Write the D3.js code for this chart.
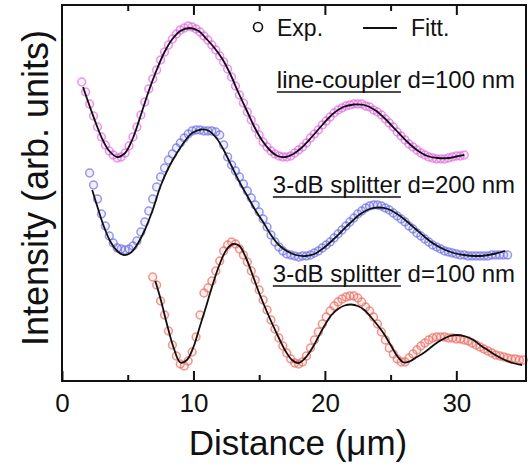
<!DOCTYPE html>
<html>
<head>
<meta charset="utf-8">
<script src="https://cdn.jsdelivr.net/npm/d3@7"></script>
<style>
  body { margin: 0; background: #fff; }
  svg text { font-family: "Liberation Sans", Arial, Helvetica, sans-serif; fill: #111; }
</style>
</head>
<body>
<div id="chart"></div>
<script>
// fitted curves (distance in um, intensity in arb. units)
const pinkFitX = [1.6, 2.1, 2.6, 3.1, 3.6, 4.2, 4.8, 5.4, 6.0, 6.6, 7.2, 7.8, 8.4, 9.0, 9.7, 10.4, 11.0, 11.6, 12.2, 12.8, 13.4, 14.0, 14.6, 15.2, 15.8, 16.4, 17.0, 17.6, 18.2, 19.0, 19.8, 20.6, 21.4, 22.2, 23.0, 23.8, 24.6, 25.4, 26.2, 27.0, 27.8, 28.6, 29.4, 30.0, 30.6];
const pinkFitY = [29.4, 27.5, 25.7, 24.1, 23.0, 22.4, 22.8, 24.3, 26.6, 29.0, 31.1, 32.9, 34.2, 35.0, 35.3, 35.0, 34.2, 33.3, 32.2, 30.7, 28.9, 27.2, 25.5, 24.1, 23.1, 22.5, 22.4, 22.7, 23.3, 24.4, 25.6, 26.7, 27.4, 27.65, 27.6, 27.1, 26.2, 25.1, 24.0, 23.1, 22.5, 22.3, 22.3, 22.45, 22.6];

const blueFitX = [2.3, 2.7, 3.2, 3.7, 4.2, 4.7, 5.2, 5.7, 6.3, 6.9, 7.5, 8.1, 8.7, 9.3, 9.9, 10.6, 11.2, 11.8, 12.3, 12.9, 13.5, 14.1, 14.7, 15.3, 15.9, 16.5, 17.1, 17.8, 18.5, 19.2, 19.9, 20.6, 21.3, 22.0, 22.7, 23.4, 24.1, 24.8, 25.5, 26.2, 26.9, 27.6, 28.3, 29.0, 29.8, 30.6, 31.4, 32.2, 33.0, 33.7];
const blueFitY = [19.1, 17.4, 15.4, 13.9, 13.0, 12.6, 12.8, 13.6, 15.1, 17.1, 19.5, 21.3, 22.7, 23.9, 24.8, 25.15, 25.0, 24.2, 23.1, 21.5, 19.9, 18.5, 17.1, 15.9, 14.6, 13.6, 13.0, 12.6, 12.5, 12.7, 13.3, 14.1, 15.0, 15.9, 16.7, 17.2, 17.35, 17.2, 16.7, 16.0, 15.2, 14.4, 13.7, 13.2, 12.8, 12.6, 12.5, 12.55, 12.75, 13.0];

const redFitX = [7.1, 7.5, 8.0, 8.5, 9.0, 9.5, 10.0, 10.5, 11.0, 11.5, 12.0, 12.5, 13.0, 13.5, 14.0, 14.5, 15.0, 15.5, 16.0, 16.5, 17.0, 17.5, 18.0, 18.5, 19.0, 19.5, 20.0, 20.5, 21.0, 21.5, 22.0, 22.5, 23.0, 23.5, 24.0, 24.5, 25.0, 25.5, 26.0, 26.5, 27.0, 27.5, 28.0, 28.5, 29.0, 29.5, 30.1, 30.7, 31.3, 31.9, 32.5, 33.1, 33.7, 34.3, 35.0];
const redFitY = [10.0, 8.2, 5.6, 3.3, 1.85, 2.1, 3.4, 5.5, 7.6, 9.8, 11.7, 13.1, 13.7, 13.5, 12.3, 10.6, 8.8, 7.2, 5.7, 4.3, 3.0, 2.1, 1.8, 2.3, 3.2, 4.4, 5.6, 6.6, 7.2, 7.55, 7.65, 7.5, 7.1, 6.4, 5.6, 4.7, 3.6, 2.5, 1.85, 2.0, 2.4, 2.8, 3.3, 3.8, 4.2, 4.5, 4.6, 4.45, 4.1, 3.5, 3.0, 2.5, 2.1, 1.8, 1.6];

// measured points, sampled every 0.3 um from the start distance
const expStep = 0.3;
const pinkExpStart = 1.5;
const pinkExp = [29.9, 28.9, 27.7, 26.5, 25.4, 24.4, 23.6, 23.0, 22.6, 22.3,
  22.4, 22.8, 23.5, 24.4, 25.4, 26.6, 27.9, 29.2, 30.2, 31.1,
  32.1, 32.9, 33.6, 34.2, 34.7, 35.1, 35.3, 35.5, 35.4, 35.2,
  34.9, 34.5, 34.1, 33.6, 33.1, 32.5, 31.9, 31.2, 30.4, 29.5,
  28.6, 27.8, 26.9, 26.1, 25.3, 24.6, 23.9, 23.4, 23.0, 22.7,
  22.5, 22.4, 22.4, 22.5, 22.8, 23.1, 23.4, 23.8, 24.3, 24.7,
  25.1, 25.6, 26.0, 26.4, 26.8, 27.1, 27.3, 27.5, 27.6, 27.7,
  27.7, 27.7, 27.5, 27.4, 27.1, 26.9, 26.6, 26.2, 25.8, 25.4,
  24.9, 24.5, 24.1, 23.7, 23.4, 23.1, 22.8, 22.6, 22.4, 22.3,
  22.2, 22.2, 22.2, 22.3, 22.4, 22.5, 22.5, 22.6];
const blueExpStart = 2.1;
const blueExp = [20.8, 19.6, 18.2, 16.7, 15.5, 14.5, 13.8, 13.3, 13.2, 13.1,
  13.2, 13.5, 14.0, 14.9, 15.9, 17.0, 18.2, 19.4, 20.4, 21.3,
  22.1, 22.7, 23.3, 23.8, 24.3, 24.7, 25.0, 25.1, 25.1, 25.0,
  25.0, 25.0, 24.9, 24.6, 23.6, 22.4, 21.6, 21.0, 20.4, 19.7,
  19.0, 18.3, 17.6, 16.9, 16.2, 15.4, 14.6, 13.9, 13.4, 13.0,
  12.7, 12.6, 12.5, 12.4, 12.5, 12.5, 12.6, 12.8, 13.0, 13.3,
  13.6, 13.9, 14.3, 14.7, 15.1, 15.5, 15.9, 16.3, 16.7, 17.0,
  17.3, 17.5, 17.6, 17.6, 17.5, 17.3, 17.1, 16.8, 16.5, 16.2,
  15.9, 15.5, 15.2, 14.8, 14.5, 14.2, 13.9, 13.6, 13.4, 13.2,
  13.0, 12.9, 12.8, 12.7, 12.6, 12.6, 12.5, 12.5, 12.5, 12.5,
  12.5, 12.5, 12.6, 12.6, 12.6, 12.6, 12.6];
const redExpStart = 6.9;
const redExp = [10.4, 9.6, 8.0, 6.6, 5.0, 3.6, 2.5, 1.7, 1.5, 2.0,
  2.9, 4.4, 6.6, 8.8, 9.3, 10.0, 11.0, 12.0, 13.0, 13.6,
  13.9, 13.7, 13.2, 12.6, 11.9, 11.0, 10.1, 9.1, 8.1, 7.1,
  6.1, 5.2, 4.3, 3.5, 2.8, 2.2, 1.8, 1.7, 1.9, 2.5,
  3.3, 4.1, 4.9, 5.7, 6.4, 7.0, 7.5, 7.9, 8.2, 8.4,
  8.5, 8.5, 8.3, 7.9, 7.4, 7.0, 6.4, 5.7, 4.9, 4.1,
  3.3, 2.7, 2.2, 1.9, 1.9, 2.3, 2.7, 3.1, 3.5, 3.8,
  4.1, 4.3, 4.4, 4.4, 4.4, 4.3, 4.3, 4.2, 4.2, 4.1,
  4.0, 3.8, 3.6, 3.4, 3.2, 3.0, 2.8, 2.6, 2.5, 2.4,
  2.3, 2.2, 2.2, 2.1, 2.1];

const xTicksMajor = [0, 10, 20, 30];
const xTicksMinor = [5, 15, 25];

const series = [
  { name: "line-coupler", label: " d=100 nm", color: "#e36be3", fitX: pinkFitX, fitY: pinkFitY, start: pinkExpStart, exp: pinkExp, ty: 88 },
  { name: "3-dB splitter", label: " d=200 nm", color: "#6f70e6", fitX: blueFitX, fitY: blueFitY, start: blueExpStart, exp: blueExp, ty: 193 },
  { name: "3-dB splitter", label: " d=100 nm", color: "#eb6e64", fitX: redFitX, fitY: redFitY, start: redExpStart, exp: redExp, ty: 282 },
];

const width = 528, height = 466;
const plot = { left: 62, top: 5, right: 526, bottom: 381 };

const svg = d3.select("#chart").append("svg")
  .attr("width", width)
  .attr("height", height);

const x = d3.scaleLinear().domain([0, 35.3]).range([plot.left, plot.right]);
const y = d3.scaleLinear().domain([0, 37.6]).range([plot.bottom, plot.top]);

// experimental circles
series.forEach(s => {
  const pts = s.exp.map((v, i) => [s.start + i * expStep, v]);
  svg.append("g")
    .selectAll("circle")
    .data(pts)
    .enter()
    .append("circle")
    .attr("cx", d => x(d[0]))
    .attr("cy", d => y(d[1]))
    .attr("r", 3.9)
    .attr("fill", s.color)
    .attr("fill-opacity", 0.1)
    .attr("stroke", s.color)
    .attr("stroke-opacity", 0.72)
    .attr("stroke-width", 1.5);
});

// fitted lines
const line = d3.line()
  .x(d => x(d[0]))
  .y(d => y(d[1]))
  .curve(d3.curveCatmullRom.alpha(0.5));

series.forEach(s => {
  svg.append("path")
    .datum(d3.zip(s.fitX, s.fitY))
    .attr("d", line)
    .attr("fill", "none")
    .attr("stroke", "#111")
    .attr("stroke-width", 1.8);
});

// frame
svg.append("rect")
  .attr("x", plot.left)
  .attr("y", plot.top)
  .attr("width", plot.right - plot.left)
  .attr("height", plot.bottom - plot.top)
  .attr("fill", "none")
  .attr("stroke", "#111")
  .attr("stroke-width", 2);

// bottom axis, ticks pointing inward
const bottomMajor = svg.append("g")
  .attr("transform", `translate(0,${plot.bottom})`)
  .call(d3.axisBottom(x).tickValues(xTicksMajor).tickSizeInner(-10).tickSizeOuter(0).tickPadding(13));
const bottomMinor = svg.append("g")
  .attr("transform", `translate(0,${plot.bottom})`)
  .call(d3.axisBottom(x).tickValues(xTicksMinor).tickSizeInner(-6).tickSizeOuter(0).tickFormat(""));
const topMajor = svg.append("g")
  .attr("transform", `translate(0,${plot.top})`)
  .call(d3.axisTop(x).tickValues(xTicksMajor.filter(t => t > 0)).tickSizeInner(-10).tickSizeOuter(0).tickFormat(""));
const topMinor = svg.append("g")
  .attr("transform", `translate(0,${plot.top})`)
  .call(d3.axisTop(x).tickValues(xTicksMinor).tickSizeInner(-6).tickSizeOuter(0).tickFormat(""));

[bottomMajor, bottomMinor, topMajor, topMinor].forEach(g => {
  g.select(".domain").remove();
  g.selectAll(".tick line").attr("stroke", "#111").attr("stroke-width", 2);
});
bottomMajor.selectAll(".tick text")
  .attr("fill", "#111")
  .style("font-size", "26px")
  .style("font-family", "'Liberation Sans', Arial, sans-serif");

// axis titles
svg.append("text")
  .attr("x", 298)
  .attr("y", 455)
  .attr("text-anchor", "middle")
  .style("font-size", "35px")
  .text("Distance (\u03bcm)");

svg.append("text")
  .attr("transform", "translate(48,188) rotate(-90)")
  .attr("text-anchor", "middle")
  .style("font-size", "36px")
  .text("Intensity (arb. units)");

// legend
svg.append("circle")
  .attr("cx", 258).attr("cy", 27).attr("r", 4.5)
  .attr("fill", "none").attr("stroke", "#111").attr("stroke-width", 1.6);
svg.append("text").attr("x", 277).attr("y", 36).style("font-size", "23px").text("Exp.");
svg.append("line")
  .attr("x1", 363).attr("x2", 397).attr("y1", 28).attr("y2", 28)
  .attr("stroke", "#111").attr("stroke-width", 1.8);
svg.append("text").attr("x", 411).attr("y", 36).style("font-size", "23px").text("Fitt.");

// curve labels, device name underlined
series.forEach(s => {
  const t = svg.append("text")
    .attr("x", 515)
    .attr("y", s.ty)
    .attr("text-anchor", "end")
    .style("font-size", "24px");
  const nameSpan = t.append("tspan").text(s.name);
  t.append("tspan").text(s.label);
  const box = t.node().getBBox();
  const nameLen = nameSpan.node().getComputedTextLength();
  svg.append("line")
    .attr("x1", box.x).attr("x2", box.x + nameLen)
    .attr("y1", s.ty + 4).attr("y2", s.ty + 4)
    .attr("stroke", "#111").attr("stroke-width", 1.6);
});
</script>
</body>
</html>
